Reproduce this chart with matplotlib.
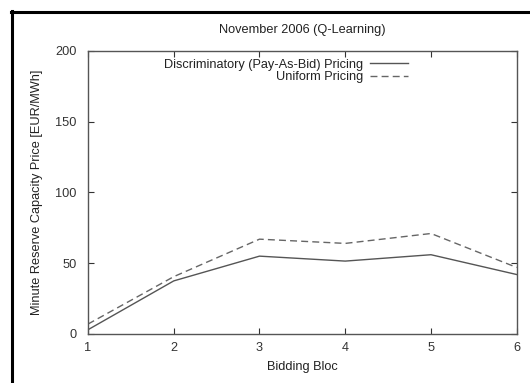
import matplotlib
matplotlib.use("Agg")
import matplotlib.pyplot as plt
from matplotlib.lines import Line2D

plt.rcParams['font.family'] = ['Liberation Sans', 'DejaVu Sans']

# bidding blocs and clearing prices
blocs = [1, 2, 3, 4, 5, 6]
discriminatory = [3, 37.5, 55, 51.5, 56, 42]
uniform = [7, 40.5, 67, 64, 71, 47]
y_ticks = [0, 50, 100, 150, 200]

grey = "#555555"
fs = 9.2

fig = plt.figure(figsize=(5.30, 3.83), dpi=100)
ax = fig.add_axes([0.166, 0.128, 0.809, 0.739])

ax.plot(blocs, discriminatory, color=grey, lw=1.0, linestyle="-",
        label="Discriminatory (Pay-As-Bid) Pricing")
ax.plot(blocs, uniform, color="#666666", lw=1.0, linestyle=(0, (5, 3)),
        label="Uniform Pricing")

ax.set_xlim(1, 6)
ax.set_ylim(0, 200)
ax.set_xticks(blocs)
ax.set_yticks(y_ticks)
ax.tick_params(direction="in", top=True, right=True, length=4, width=0.8,
               colors="#333333", labelsize=fs, pad=6)
ax.tick_params(axis="y", pad=8)
for s in ax.spines.values():
    s.set_color("#555555")
    s.set_linewidth(1.0)

ax.set_title("November 2006 (Q-Learning)", fontsize=fs, color="#222222", pad=13)
ax.set_xlabel("Bidding Bloc", fontsize=fs, color="#222222", labelpad=5)
ax.set_ylabel("Minute Reserve Capacity Price [EUR/MWh]", fontsize=fs,
              color="#222222", labelpad=9)

leg = ax.legend(loc="upper right", bbox_to_anchor=(0.765, 1.0), frameon=False,
                fontsize=fs, markerfirst=False, handlelength=3.0,
                handletextpad=0.5, labelspacing=0.05, borderaxespad=0.2)
for t in leg.get_texts():
    t.set_ha("right")
    t.set_color("#222222")
leg._legend_box.align = "right"

# thick scan frame on the left and top edges
fig.add_artist(Line2D([0.022, 0.022], [0.0, 0.97], transform=fig.transFigure,
                      color="black", lw=2.2))
fig.add_artist(Line2D([0.020, 1.0], [0.969, 0.969], transform=fig.transFigure,
                      color="black", lw=2.2))

fig.savefig("out.png", dpi=100)
